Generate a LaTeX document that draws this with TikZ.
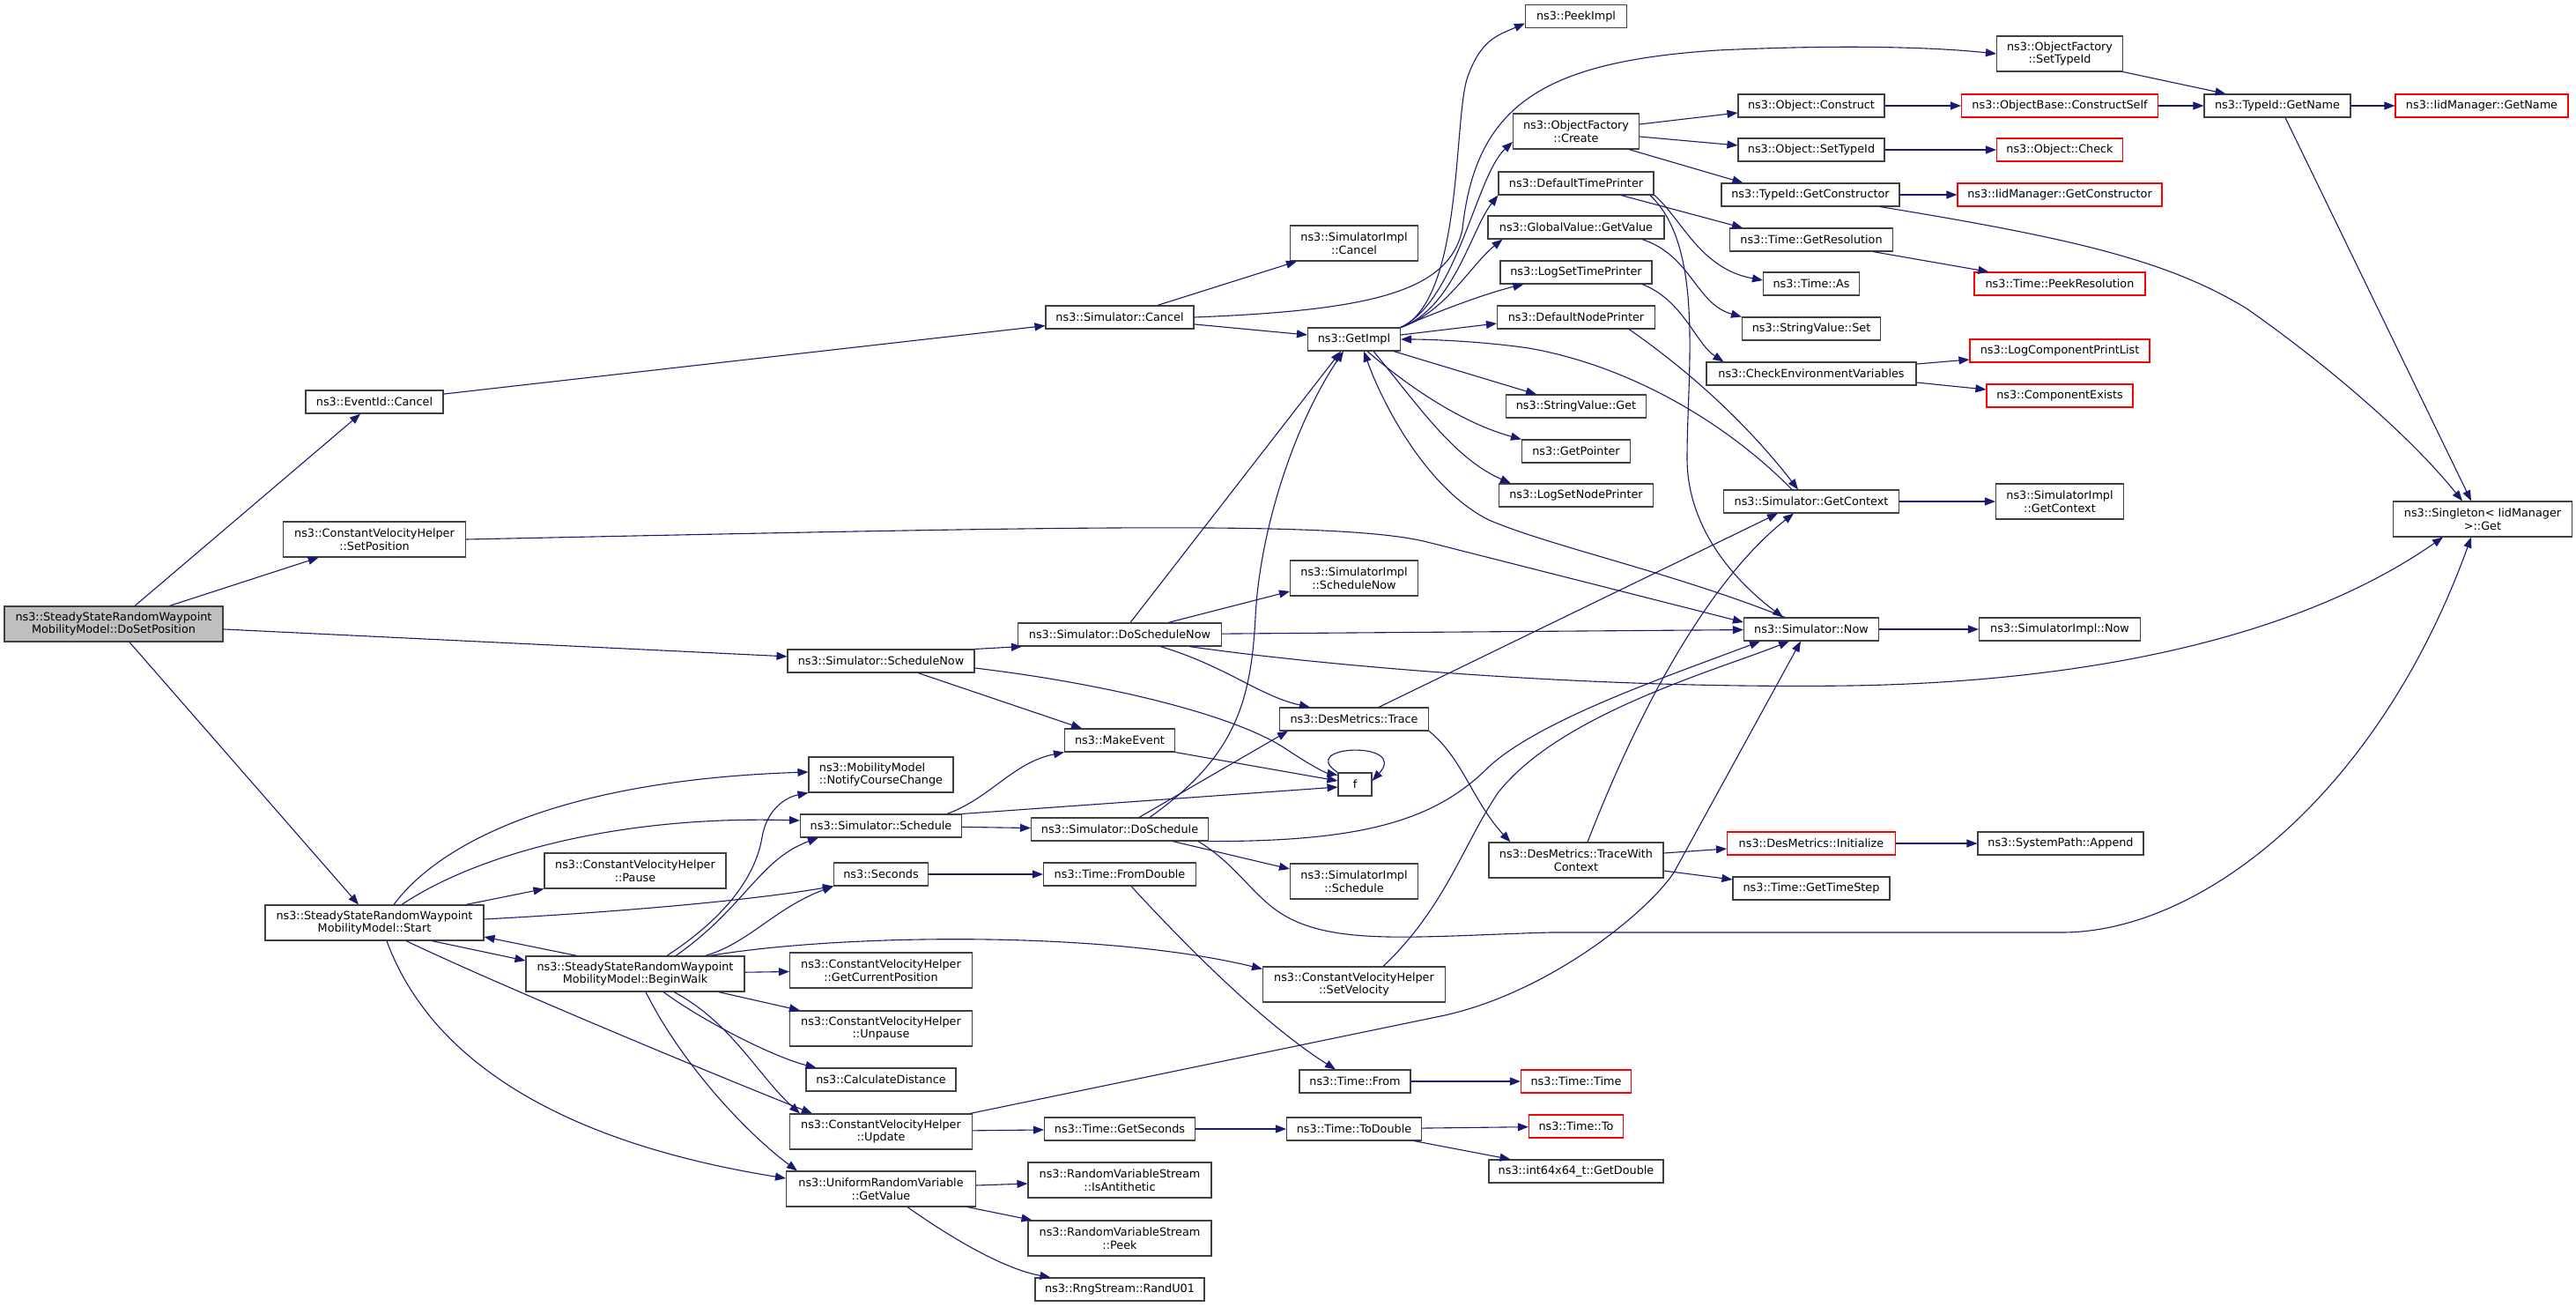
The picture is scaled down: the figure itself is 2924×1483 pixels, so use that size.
\documentclass[tikz,border=0pt]{standalone}
\usepackage{fontspec}
\setmainfont{DejaVu Sans}
\usetikzlibrary{arrows.meta}
\definecolor{edgeblue}{RGB}{25,25,112}
\definecolor{boxgray}{RGB}{64,64,64}
\definecolor{rootgray}{RGB}{191,191,191}
\tikzset{
  fn/.style={draw=boxgray, line width=1.1pt, fill=white, rectangle, inner sep=0pt,
    align=center, minimum height=26pt, font=\fontsize{12.8}{14.6}\selectfont},
  two/.style={minimum height=40pt},
  wd/.style={minimum width=#1pt},
  trunc/.style={draw=red},
  call/.style={draw=edgeblue, line width=1.1pt, -{Triangle[length=12pt,width=9pt]}},
}
\begin{document}
\begin{tikzpicture}[x=1pt,y=-1pt]
\useasboundingbox[fill=white] (0,0) rectangle (2924,1483);
% rank 0 and 1
\node[fn, two, wd=248, fill=rootgray] (dsp) at (129,708) {ns3::SteadyStateRandomWaypoint\\MobilityModel::DoSetPosition};
\node[fn, wd=156] (evc) at (425,456) {ns3::EventId::Cancel};
\node[fn, two, wd=207] (cvsp) at (425,612) {ns3::ConstantVelocityHelper\\::SetPosition};
\node[fn, two, wd=248] (start) at (425,1047) {ns3::SteadyStateRandomWaypoint\\MobilityModel::Start};
% rank 2
\node[fn, two, wd=206] (pause) at (721,988) {ns3::ConstantVelocityHelper\\::Pause};
\node[fn, two, wd=248] (walk) at (721,1105) {ns3::SteadyStateRandomWaypoint\\MobilityModel::BeginWalk};
% rank 3
\node[fn, wd=212] (schnow) at (1000,750) {ns3::Simulator::ScheduleNow};
\node[fn, two, wd=164, align=left] (notify) at (1000,879) {ns3::MobilityModel\\::NotifyCourseChange};
\node[fn, wd=183] (sched) at (1000,937) {ns3::Simulator::Schedule};
\node[fn, wd=107] (secs) at (1000,992) {ns3::Seconds};
\node[fn, two, wd=207] (getcur) at (1000,1101) {ns3::ConstantVelocityHelper\\::GetCurrentPosition};
\node[fn, two, wd=207] (unpause) at (1000,1167) {ns3::ConstantVelocityHelper\\::Unpause};
\node[fn, wd=170] (caldist) at (1000,1225) {ns3::CalculateDistance};
\node[fn, two, wd=207] (update) at (1000,1284) {ns3::ConstantVelocityHelper\\::Update};
\node[fn, two, wd=215] (getval) at (1000,1349) {ns3::UniformRandomVariable\\::GetValue};
% rank 4
\node[fn, wd=168] (simcancel) at (1271,360) {ns3::Simulator::Cancel};
\node[fn, wd=231] (dosnow) at (1271,720) {ns3::Simulator::DoScheduleNow};
\node[fn, wd=125] (mkevent) at (1271,840) {ns3::MakeEvent};
\node[fn, wd=201] (dosched) at (1271,941) {ns3::Simulator::DoSchedule};
\node[fn, wd=173] (fromdbl) at (1271,992) {ns3::Time::FromDouble};
\node[fn, wd=171] (getsecs) at (1271,1281) {ns3::Time::GetSeconds};
\node[fn, two, wd=208] (isanti) at (1271,1339) {ns3::RandomVariableStream\\::IsAntithetic};
\node[fn, two, wd=208] (peek) at (1271,1405) {ns3::RandomVariableStream\\::Peek};
\node[fn, wd=192] (randu) at (1271,1463) {ns3::RngStream::RandU01};
% rank 5
\node[fn, wd=105] (getimpl) at (1537,385) {ns3::GetImpl};
\node[fn, two, wd=145] (sicancel) at (1537,276) {ns3::SimulatorImpl\\::Cancel};
\node[fn, two, wd=145] (sischnow) at (1537,656) {ns3::SimulatorImpl\\::ScheduleNow};
\node[fn, wd=169] (trace) at (1537,816) {ns3::DesMetrics::Trace};
\node[fn, wd=38] (f) at (1538,890) {f};
\node[fn, two, wd=145] (sisched) at (1537,1000) {ns3::SimulatorImpl\\::Schedule};
\node[fn, two, wd=207] (setvel) at (1537,1117) {ns3::ConstantVelocityHelper\\::SetVelocity};
\node[fn, wd=126] (tfrom) at (1538,1227) {ns3::Time::From};
\node[fn, wd=153] (todbl) at (1537,1281) {ns3::Time::ToDouble};
% rank 6
\node[fn, wd=115] (peekimpl) at (1789,18.5) {ns3::PeekImpl};
\node[fn, two, wd=143] (ofcreate) at (1789,149) {ns3::ObjectFactory\\::Create};
\node[fn, wd=176] (dtp) at (1789,208) {ns3::DefaultTimePrinter};
\node[fn, wd=200] (gvget) at (1789,258) {ns3::GlobalValue::GetValue};
\node[fn, wd=172] (lstp) at (1789,309) {ns3::LogSetTimePrinter};
\node[fn, wd=179] (dnp) at (1789,360) {ns3::DefaultNodePrinter};
\node[fn, wd=159] (svget) at (1789,461) {ns3::StringValue::Get};
\node[fn, wd=123] (getptr) at (1789,512) {ns3::GetPointer};
\node[fn, wd=175] (lsnp) at (1789,562) {ns3::LogSetNodePrinter};
\node[fn, two, wd=198] (twc) at (1789,976) {ns3::DesMetrics::TraceWith\\Context};
\node[fn, trunc, wd=125] (ttime) at (1789,1227) {ns3::Time::Time};
\node[fn, trunc, wd=107] (tto) at (1789,1278) {ns3::Time::To};
\node[fn, wd=198] (getdbl) at (1789,1329) {ns3::int64x64\_t::GetDouble};
% rank 7
\node[fn, wd=166] (objcons) at (2056,120) {ns3::Object::Construct};
\node[fn, wd=166] (objsti) at (2056,170) {ns3::Object::SetTypeId};
\node[fn, wd=202] (getctor) at (2055,221) {ns3::TypeId::GetConstructor};
\node[fn, wd=185] (getres) at (2056,272) {ns3::Time::GetResolution};
\node[fn, wd=109] (tas) at (2056,322) {ns3::Time::As};
\node[fn, wd=157] (svset) at (2056,373) {ns3::StringValue::Set};
\node[fn, wd=238] (checkenv) at (2056,424) {ns3::CheckEnvironmentVariables};
\node[fn, wd=199] (getctx) at (2056,569) {ns3::Simulator::GetContext};
\node[fn, wd=153] (now) at (2056,714) {ns3::Simulator::Now};
\node[fn, trunc, wd=191] (desinit) at (2056,957) {ns3::DesMetrics::Initialize};
\node[fn, wd=178] (timestep) at (2056,1008) {ns3::Time::GetTimeStep};
% rank 8
\node[fn, two, wd=143] (oftid) at (2338,61) {ns3::ObjectFactory\\::SetTypeId};
\node[fn, trunc, wd=223] (cself) at (2338,120) {ns3::ObjectBase::ConstructSelf};
\node[fn, trunc, wd=143] (objcheck) at (2338,170) {ns3::Object::Check};
\node[fn, trunc, wd=232] (iidctor) at (2338,221) {ns3::IidManager::GetConstructor};
\node[fn, trunc, wd=194] (peekres) at (2338,322) {ns3::Time::PeekResolution};
\node[fn, trunc, wd=204] (lcpl) at (2338,398) {ns3::LogComponentPrintList};
\node[fn, trunc, wd=166] (compex) at (2338,449) {ns3::ComponentExists};
\node[fn, two, wd=145] (sigctx) at (2338,569) {ns3::SimulatorImpl\\::GetContext};
\node[fn, wd=183] (sinow) at (2338,714) {ns3::SimulatorImpl::Now};
\node[fn, wd=188] (spappend) at (2339,957) {ns3::SystemPath::Append};
% rank 9 and 10
\node[fn, wd=166] (getname) at (2585,120) {ns3::TypeId::GetName};
\node[fn, trunc, wd=196] (iidname) at (2817,120) {ns3::IidManager::GetName};
\node[fn, two, wd=203] (singleton) at (2818,589) {ns3::Singleton< IidManager\\ >::Get};
% calls out of DoSetPosition
\draw[call] (dsp) -- (evc);
\draw[call] (dsp) -- (cvsp);
\draw[call] (dsp) -- (schnow);
\draw[call] (dsp) -- (start);
\draw[call] (evc) -- (simcancel);
\draw[call] (cvsp.east) .. controls (1200,598) and (1520,590) .. (1620,615) -- ([yshift=8pt]now.west);
% Simulator::Cancel and GetImpl
\draw[call] (simcancel) -- (sicancel);
\draw[call] (simcancel) -- (getimpl);
\draw[call] (simcancel.east) .. controls (1560,352) and (1645,330) .. (1660,260) .. controls (1675,120) and (1750,70) .. (1950,57) .. controls (2100,50) and (2200,54) .. (oftid.west);
\draw[call] (getimpl.north east) .. controls (1660,340) and (1650,140) .. (1665,90) .. controls (1680,45) and (1700,40) .. ([yshift=-8pt]peekimpl.west);
\draw[call] (getimpl.north east) .. controls (1655,340) and (1675,200) .. ([yshift=-12pt]ofcreate.west);
\draw[call] (getimpl.north east) .. controls (1650,350) and (1670,260) .. (dtp.south west);
\draw[call] (getimpl.north east) .. controls (1640,355) and (1670,300) .. ([xshift=17pt]gvget.south west);
\draw[call] (getimpl.north east) .. controls (1640,350) and (1690,332) .. ([xshift=27pt]lstp.south west);
\draw[call] ([yshift=5pt]getimpl.east) -- ([yshift=-7pt]dnp.west);
\draw[call] (getimpl) -- (svget);
\draw[call] ([xshift=15pt]getimpl.south) .. controls (1600,440) and (1660,480) .. (getptr.north west);
\draw[call] ([xshift=22pt]getimpl.south) .. controls (1610,460) and (1650,520) .. ([xshift=14pt]lsnp.north west);
\draw[call] ([xshift=-30pt]now.north) .. controls (1900,650) and (1760,620) .. (1690,590) .. controls (1620,555) and (1570,460) .. ([xshift=11pt]getimpl.south);
\draw[call] ([xshift=-22pt]getctx.north) .. controls (1960,480) and (1850,415) .. (1735,395) .. controls (1680,387) and (1620,385) .. (getimpl.east);
\draw[call] ([xshift=60pt]dnp.south) .. controls (1930,430) and (1990,490) .. ([xshift=-15pt]getctx.north);
% printers and object factory
\draw[call] ([xshift=84pt]dtp.south) .. controls (1935,280) and (1915,420) .. (1915,520) .. controls (1915,600) and (1970,660) .. ([xshift=-32pt]now.north);
\draw[call] ([xshift=51pt]dtp.south) -- ([xshift=-78pt]getres.north);
\draw[call] ([xshift=89pt]dtp.south) .. controls (1910,250) and (1930,305) .. ([yshift=4pt]tas.west);
\draw[call] ([xshift=75pt]gvget.south) .. controls (1920,290) and (1925,345) .. (svset.north west);
\draw[call] ([xshift=75pt]lstp.south) .. controls (1910,340) and (1925,390) .. ([xshift=20pt]checkenv.north west);
\draw[call] ([yshift=8pt]ofcreate.east) -- ([yshift=-8pt]objcons.west);
\draw[call] ([yshift=-6pt]ofcreate.east) -- ([yshift=5pt]objsti.west);
\draw[call] ([xshift=60pt]ofcreate.south) -- ([xshift=25pt]getctor.north west);
\draw[call] (objcons) -- (cself);
\draw[call] (cself) -- (getname);
\draw[call] (oftid.south east) -- ([xshift=25pt]getname.north west);
\draw[call] (getname) -- (iidname);
\draw[call] ([xshift=9pt]getname.south) -- ([xshift=-13pt]singleton.north);
\draw[call] (objsti) -- (objcheck);
\draw[call] (getctor) -- (iidctor);
\draw[call] ([xshift=79pt]getctor.south) .. controls (2350,270) and (2460,295) .. (2550,350) .. controls (2650,420) and (2740,500) .. ([xshift=-23pt]singleton.north);
\draw[call] ([xshift=70pt]getres.south) -- ([xshift=17pt]peekres.north west);
\draw[call] ([yshift=11pt]checkenv.east) -- ([yshift=-10pt]lcpl.west);
\draw[call] ([yshift=-10pt]checkenv.east) -- ([yshift=7pt]compex.west);
\draw[call] (getctx) -- (sigctx);
\draw[call] (now) -- (sinow);
% scheduling
\draw[call] (schnow.north east) -- ([xshift=5pt]dosnow.south west);
\draw[call] ([xshift=42pt]schnow.south) -- ([xshift=-43pt]mkevent.north);
\draw[call] ([yshift=-8pt]schnow.east) .. controls (1250,775) and (1400,810) .. (1460,850) .. controls (1490,870) and (1505,877) .. ([yshift=-3pt]f.north west);
\draw[call] ([xshift=12pt]dosnow.north) -- ([xshift=-15pt]getimpl.south);
\draw[call] ([xshift=55pt]dosnow.north) -- ([yshift=-15pt]sischnow.west);
\draw[call] (dosnow) -- (now);
\draw[call] ([xshift=46pt]dosnow.south) .. controls (1390,755) and (1430,790) .. ([xshift=35pt]trace.north west);
\draw[call] ([xshift=79pt]dosnow.south) .. controls (1500,755) and (1800,782) .. (2100,778) .. controls (2350,774) and (2600,730) .. ([xshift=-45pt]singleton.south);
\draw[call] (mkevent.south east) -- ([yshift=4pt]f.west);
\draw[call] (f.north west) .. controls (1470,845) and (1600,840) .. ([yshift=4pt]f.east);
\draw[call] ([xshift=75pt]sched.north) .. controls (1125,905) and (1150,865) .. (mkevent.south west);
\draw[call] (sched.north east) -- ([yshift=-3pt]f.west);
\draw[call] (sched) -- (dosched);
\draw[call] ([xshift=34pt]dosched.north) .. controls (1400,860) and (1420,800) .. (1425,700) .. controls (1430,600) and (1470,480) .. ([xshift=-12pt]getimpl.south);
\draw[call] ([xshift=22pt]dosched.north) -- ([xshift=10pt]trace.south west);
\draw[call] (dosched.south east) .. controls (1550,955) and (1630,930) .. (1690,870) .. controls (1750,815) and (1900,765) .. ([xshift=-58pt]now.south);
\draw[call] ([xshift=60pt]dosched.south) -- ([yshift=14pt]sisched.west);
\draw[call] ([xshift=89pt]dosched.south) .. controls (1410,985) and (1425,1025) .. (1470,1045) .. controls (1530,1072) and (1620,1062) .. (1760,1058) -- (2340,1058) .. controls (2500,1058) and (2700,900) .. ([xshift=-13pt]singleton.south);
\draw[call] ([xshift=28pt]trace.north) -- ([xshift=-38pt]getctx.south);
\draw[call] (trace.south east) .. controls (1660,860) and (1672,910) .. ([xshift=25pt]twc.north west);
\draw[call] ([xshift=13pt]twc.north) .. controls (1870,780) and (1950,650) .. ([xshift=-20pt]getctx.south);
\draw[call] ([yshift=8pt]twc.east) -- ([yshift=-6pt]desinit.west);
\draw[call] ([yshift=-12pt]twc.east) -- ([yshift=10pt]timestep.west);
\draw[call] (desinit) -- (spappend);
% Start and BeginWalk
\draw[call] ([xshift=22pt]start.north) .. controls (500,955) and (640,885) .. ([yshift=3pt]notify.west);
\draw[call] ([xshift=31pt]start.north) .. controls (540,970) and (700,925) .. ([yshift=6pt]sched.west);
\draw[call] ([xshift=-21pt]start.north east) -- (pause.south west);
\draw[call] ([yshift=4pt]start.east) .. controls (700,1035) and (850,1022) .. (secs.south west);
\draw[call] ([xshift=65pt]start.south) -- ([yshift=15pt]walk.west);
\draw[call] ([xshift=-66pt]walk.north) -- ([yshift=-16pt]start.east);
\draw[call] ([xshift=36pt]start.south) .. controls (560,1115) and (800,1215) .. ([xshift=26pt]update.north west);
\draw[call] ([xshift=14pt]start.south) .. controls (480,1180) and (600,1290) .. ([yshift=12pt]getval.west);
\draw[call] ([xshift=36pt]walk.north) .. controls (840,1030) and (860,980) .. (865,950) .. controls (870,920) and (890,905) .. (notify.south west);
\draw[call] ([xshift=46pt]walk.north) .. controls (845,1030) and (862,975) .. ([xshift=21pt]sched.south west);
\draw[call] ([xshift=-45pt]walk.north east) .. controls (850,1070) and (880,1030) .. (secs.south west);
\draw[call] (walk) -- (getcur);
\draw[call] ([xshift=-30pt]walk.south east) -- ([xshift=12pt]unpause.north west);
\draw[call] ([xshift=32pt]walk.south) .. controls (800,1160) and (880,1200) .. ([xshift=12pt]caldist.north west);
\draw[call] ([xshift=44pt]walk.south) .. controls (830,1160) and (860,1220) .. ([xshift=12pt]update.north west);
\draw[call] ([xshift=12pt]walk.south) .. controls (770,1200) and (840,1280) .. ([xshift=13pt]getval.north west);
\draw[call] ([xshift=-40pt]walk.north east) .. controls (950,1060) and (1250,1055) .. ([yshift=-3pt]setvel.north west);
\draw[call] ([xshift=33pt]setvel.north) .. controls (1640,1030) and (1660,960) .. (1700,900) .. controls (1770,810) and (1950,760) .. ([xshift=-25pt]now.south);
\draw[call] ([xshift=-3pt]update.north east) -- (1640,1152) .. controls (1760,1125) and (1870,1035) .. (1900,990) -- ([xshift=-12pt]now.south);
\draw[call] (update) -- (getsecs);
\draw[call] ([yshift=4pt]getval.east) -- ([yshift=-4pt]isanti.west);
\draw[call] ([xshift=-10pt]getval.south east) -- ([xshift=5pt]peek.north west);
\draw[call] ([xshift=30pt]getval.south) .. controls (1080,1405) and (1140,1440) .. ([xshift=18pt]randu.north west);
% time conversions
\draw[call] (secs) -- (fromdbl);
\draw[call] ([xshift=13pt]fromdbl.south) .. controls (1380,1110) and (1455,1175) .. ([xshift=-22pt]tfrom.north);
\draw[call] (tfrom) -- (ttime);
\draw[call] (getsecs) -- (todbl);
\draw[call] (todbl) -- (tto);
\draw[call] ([xshift=68pt]todbl.south) -- ([xshift=25pt]getdbl.north west);
\end{tikzpicture}
\end{document}
